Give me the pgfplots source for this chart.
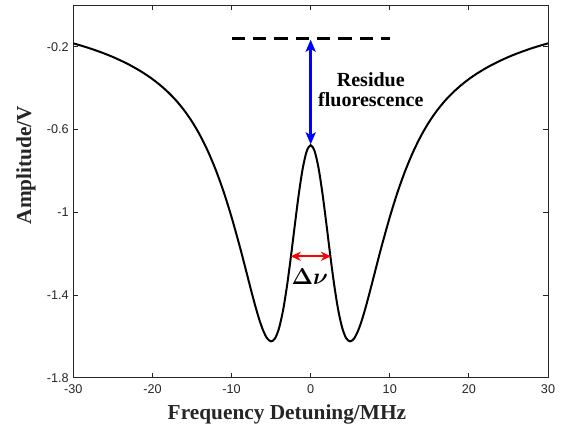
\documentclass[border=0pt]{standalone}
\usepackage{amsmath}
\usepackage{fontspec}
\setmainfont{Liberation Serif}
\newfontfamily\sansticks{Liberation Sans}
\usepackage{pgfplots}
\pgfplotsset{compat=1.18}
\usetikzlibrary{arrows.meta}
\definecolor{axgray}{gray}{0.15}

\pgfplotstableread{
x y
-30 -0.1839
-29 -0.1949
-28 -0.2068
-27 -0.2199
-26 -0.2341
-25 -0.2497
-24 -0.2669
-23 -0.2858
-22 -0.3069
-21 -0.3302
-20 -0.3565
-19 -0.3865
-18 -0.4208
-17 -0.4604
-16 -0.5070
-15 -0.5619
-14 -0.6270
-13 -0.7042
-12 -0.7951
-11 -0.9013
-10 -1.0236
-9 -1.1602
-8.5 -1.2329
-8 -1.3073
-7.5 -1.3815
-7 -1.4530
-6.5 -1.5181
-6 -1.5723
-5.5 -1.6099
-5 -1.6242
-4.5 -1.6095
-4 -1.5607
-3.5 -1.4761
-3 -1.3582
-2.5 -1.2154
-2 -1.0607
-1.5 -0.9119
-1 -0.7875
-0.5 -0.7049
0 -0.6760
0.5 -0.7049
1 -0.7875
1.5 -0.9119
2 -1.0607
2.5 -1.2154
3 -1.3582
3.5 -1.4761
4 -1.5607
4.5 -1.6095
5 -1.6242
5.5 -1.6099
6 -1.5723
6.5 -1.5181
7 -1.4530
7.5 -1.3815
8 -1.3073
8.5 -1.2329
9 -1.1602
10 -1.0236
11 -0.9013
12 -0.7951
13 -0.7042
14 -0.6270
15 -0.5619
16 -0.5070
17 -0.4604
18 -0.4208
19 -0.3865
20 -0.3565
21 -0.3302
22 -0.3069
23 -0.2858
24 -0.2669
25 -0.2497
26 -0.2341
27 -0.2199
28 -0.2068
29 -0.1949
30 -0.1839
}\curvedata

\begin{document}
\begin{tikzpicture}
\begin{axis}[
  scale only axis, width=356pt, height=279.3pt,
  xmin=-30, xmax=30, ymin=-1.8, ymax=0,
  xtick={-30,-20,-10,0,10,20,30},
  xticklabels={-30,-20,-10,0,10,20,30},
  ytick={-1.8,-1.4,-1,-0.6,-0.2},
  yticklabels={-1.8,-1.4,-1,-0.6,-0.2},
  xtick pos=both, ytick pos=both,
  tick align=inside, major tick length=3.75pt,
  axis line style={axgray, line width=0.6pt},
  tick style={axgray, line width=0.6pt},
  tick label style={font=\sansticks\fontsize{9.5}{11}\selectfont, text=axgray},
  xticklabel style={yshift=-2pt},
  xlabel={\textbf{Frequency Detuning/MHz}},
  ylabel={\textbf{Amplitude/V}},
  xlabel style={font=\fontsize{16}{18}\selectfont, text=axgray, at={(axis description cs:0.45,-0.111)}, anchor=base},
  ylabel style={font=\fontsize{16}{18}\selectfont, text=axgray, at={(axis description cs:-0.089,0.571)}, anchor=base},
]
\addplot[black, line width=1.5pt, smooth] table[x=x, y=y] {\curvedata};
\addplot[black, line width=2pt, dash pattern=on 10pt off 6pt] coordinates {(-10,-0.16) (10,-0.16)};
\addplot[blue, line width=2pt, {Stealth[length=9pt,width=7.5pt,inset=2pt]}-{Stealth[length=9pt,width=7.5pt,inset=2pt]}] coordinates {(0,-0.166) (0,-0.672)};
\addplot[red, line width=1.8pt, {Stealth[length=7.5pt,width=7pt,inset=2.5pt]}-{Stealth[length=7.5pt,width=7pt,inset=2.5pt]}] coordinates {(-2.5,-1.213) (2.55,-1.213)};
\node[font=\fontsize{15}{15}\selectfont\bfseries, align=center, inner sep=0pt] at (axis cs:7.6,-0.41) {Residue\\[0pt]fluorescence};
\node[font=\fontsize{16.5}{18}\selectfont, inner sep=0pt] at (axis cs:-0.1,-1.31) {$\boldsymbol{\Delta\nu}$};
\end{axis}
\pgfresetboundingbox
\useasboundingbox ([shift={(-55pt,-40.7pt)}]current axis.south west) rectangle ([shift={(12.75pt,4pt)}]current axis.north east);
\end{tikzpicture}
\end{document}
